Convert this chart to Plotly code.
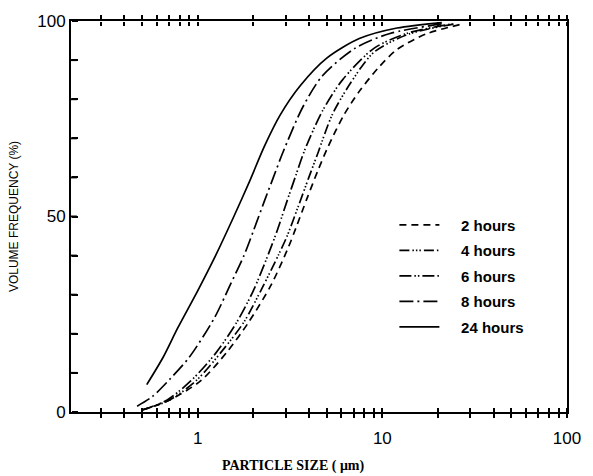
import plotly.graph_objects as go

# Particle size (um) and cumulative volume frequency (%)
size_2h = [0.50, 0.70, 1.04, 1.45, 1.89, 2.50, 3.09, 3.40, 3.90, 4.50, 5.10, 6.20, 7.50, 9.50, 12.0, 17.3, 27.0]
freq_2h = [0.5, 3.0, 8.0, 15.5, 23.0, 32.5, 42.0, 47.0, 54.5, 62.0, 68.0, 76.0, 82.0, 88.0, 92.7, 96.7, 99.2]

size_4h = [0.50, 0.70, 0.98, 1.35, 1.78, 2.25, 2.76, 3.05, 3.50, 4.00, 4.50, 5.35, 6.70, 9.00, 14.0, 25.0]
freq_4h = [0.5, 3.0, 8.0, 15.5, 23.0, 32.0, 40.5, 45.0, 52.5, 60.0, 66.5, 76.0, 84.0, 92.0, 96.7, 99.3]

size_6h = [0.50, 0.68, 0.92, 1.25, 1.63, 2.00, 2.42, 2.70, 3.05, 3.40, 3.80, 4.74, 6.10, 9.00, 13.5, 24.0]
freq_6h = [0.5, 3.0, 8.0, 15.0, 23.0, 31.0, 40.5, 46.5, 54.0, 60.5, 67.0, 77.0, 85.0, 93.0, 96.8, 99.3]

size_8h = [0.47, 0.57, 0.71, 0.90, 1.23, 1.50, 1.78, 2.01, 2.30, 2.57, 2.90, 3.71, 4.74, 7.10, 11.0, 22.0]
freq_8h = [1.5, 4.0, 8.5, 14.0, 24.0, 32.5, 40.0, 46.5, 54.0, 60.0, 66.5, 78.0, 86.0, 93.0, 96.8, 99.4]

size_24h = [0.53, 0.65, 0.78, 1.00, 1.25, 1.57, 1.91, 2.30, 2.80, 3.60, 5.00, 7.50, 12.0, 21.0]
freq_24h = [7.0, 14.0, 21.5, 31.0, 40.0, 50.0, 59.0, 68.0, 76.0, 83.5, 90.5, 95.5, 98.2, 99.6]

series_names = ["2 hours", "4 hours", "6 hours", "8 hours", "24 hours"]

x_tickvals = [0.3, 0.4, 0.5, 0.6, 0.7, 0.8, 0.9,
              1, 2, 3, 4, 5, 6, 7, 8, 9,
              10, 20, 30, 40, 50, 60, 70, 80, 90, 100]
x_ticklabels = {1: "1", 10: "10", 100: "100"}
y_tickvals = [0, 10, 20, 30, 40, 50, 60, 70, 80, 90, 100]
y_ticklabels = {0: "0", 50: "50", 100: "100"}

series = [
    (size_2h, freq_2h, "7px,5px"),
    (size_4h, freq_4h, "10px,3px,1.5px,2px,1.5px,2px,1.5px,3px"),
    (size_6h, freq_6h, "12px,3px,1.5px,2px,1.5px,3px"),
    (size_8h, freq_8h, "14px,4px,2px,4px"),
    (size_24h, freq_24h, "solid"),
]

NB = "\u00a0"
fig = go.Figure()
for i, ((xs, ys, dash), name) in enumerate(zip(series, series_names)):
    fig.add_trace(go.Scatter(
        x=xs, y=ys, mode="lines", name=NB * 4 + name, legendgroup=f"g{i}",
        line=dict(color="black", width=1.7, dash=dash, shape="spline", smoothing=0.8),
    ))

# invisible helper traces so the tick-only twin axes are drawn
for xa, ya in [("x2", "y"), ("x3", "y"), ("x", "y2")]:
    fig.add_trace(go.Scatter(x=[1], y=[50], xaxis=xa, yaxis=ya, mode="markers",
                             marker=dict(opacity=0), showlegend=False, hoverinfo="skip"))

xrange = [-0.686, 2.0]
xticktext = [x_ticklabels.get(v, "") for v in x_tickvals]
blank_x = ["" for _ in x_tickvals]
tick_style = dict(ticks="outside", ticklen=4, tickwidth=1.5, tickcolor="black",
                  showgrid=False, zeroline=False)

# inward y tick marks along the left axis, at the y tick values
plot_w = 593 - 71 - 16
y_tick_shapes = [
    dict(type="line", xref="paper", yref="y", x0=0, x1=6 / plot_w, y0=v, y1=v,
         line=dict(color="black", width=2), layer="above")
    for v in y_tickvals if 0 < v < 100
]

fig.update_layout(
    width=593, height=476,
    margin=dict(l=71, r=16, t=15, b=64),
    paper_bgcolor="white", plot_bgcolor="white",
    font=dict(family="Liberation Sans", color="black"),
    showlegend=True,
    legend=dict(
        x=0.652, y=0.52, xanchor="left", yanchor="top",
        bgcolor="rgba(0,0,0,0)",
        font=dict(family="Liberation Sans", size=15, weight="bold", color="black"),
        tracegroupgap=3, itemwidth=40,
    ),
    xaxis=dict(
        type="log", range=xrange,
        tickmode="array", tickvals=x_tickvals, ticktext=xticktext,
        showline=True, linecolor="black", linewidth=2, mirror="allticks",
        tickfont=dict(family="Liberation Sans", size=17),
        ticklabelstandoff=6, **tick_style,
    ),
    xaxis2=dict(
        type="log", range=xrange, overlaying="x", side="top",
        anchor="free", position=0,
        tickmode="array", tickvals=x_tickvals, ticktext=blank_x,
        showline=False, **tick_style,
    ),
    xaxis3=dict(
        type="log", range=xrange, overlaying="x", side="bottom",
        anchor="free", position=1,
        tickmode="array", tickvals=x_tickvals, ticktext=blank_x,
        showline=False, **tick_style,
    ),
    yaxis=dict(
        range=[0, 100],
        tickmode="array", tickvals=y_tickvals,
        ticktext=[y_ticklabels.get(v, "") for v in y_tickvals],
        ticks="", showline=True, linecolor="black", linewidth=2, mirror=True,
        showgrid=False, zeroline=False,
        tickfont=dict(family="Liberation Sans", size=17),
        title=dict(text="VOLUME FREQUENCY (%)", standoff=16,
                   font=dict(family="Liberation Sans Narrow, Liberation Sans", size=12)),
    ),
    # twin y axis on the left edge, ticks pointing right (inward)
    yaxis2=dict(
        range=[0, 100], overlaying="y", side="right", anchor="free", position=0,
        tickmode="array", tickvals=y_tickvals, showticklabels=False,
        showline=False, ticks="outside", ticklen=6, tickwidth=2, tickcolor="black",
        showgrid=False, zeroline=False,
    ),
    shapes=y_tick_shapes,
    annotations=[dict(
        text="<b>PARTICLE SIZE ( μm)</b>", xref="paper", yref="paper",
        x=0.447, y=-0.137, xanchor="center", yanchor="middle", showarrow=False,
        font=dict(family="Liberation Serif", size=14, color="black"),
    )],
)

fig.write_html("out.html")
